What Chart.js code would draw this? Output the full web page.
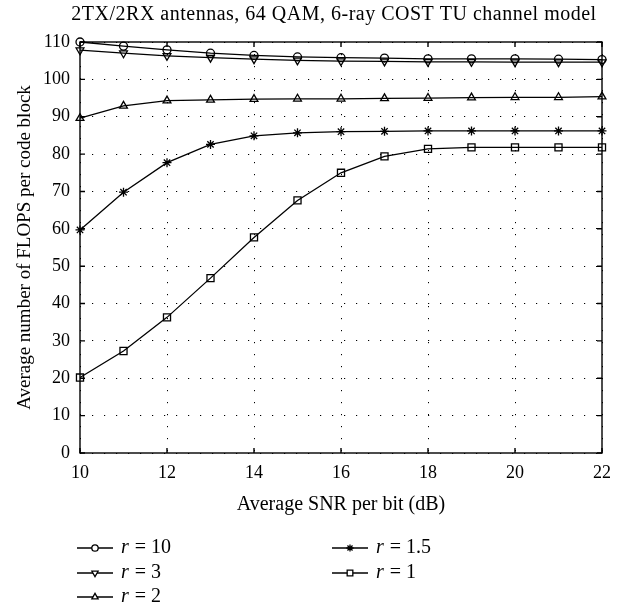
<!DOCTYPE html>
<html>
<head>
<meta charset="utf-8">
<script src="https://cdn.jsdelivr.net/npm/chart.js@4/dist/chart.umd.min.js"></script>
<style>
  html, body { margin: 0; padding: 0; background: #fff; }
  #wrap { width: 624px; height: 611px; }
</style>
</head>
<body>
<div id="wrap"><canvas id="flopsChart" width="624" height="611"></canvas></div>
<script>
const snr = [10, 11, 12, 13, 14, 15, 16, 17, 18, 19, 20, 21, 22];
const r10 = [110, 108.9, 107.9, 107, 106.4, 106, 105.8, 105.7, 105.5, 105.5, 105.5, 105.4, 105.3];
const r3 = [107.8, 107, 106.3, 105.8, 105.4, 105.1, 104.9, 104.8, 104.7, 104.7, 104.6, 104.6, 104.6];
const r2 = [89.6, 92.9, 94.3, 94.5, 94.7, 94.8, 94.8, 94.9, 95.0, 95.1, 95.2, 95.2, 95.4];
const r15 = [59.7, 69.8, 77.7, 82.6, 84.9, 85.7, 86.0, 86.1, 86.2, 86.2, 86.2, 86.2, 86.2];
const r1 = [20.2, 27.3, 36.3, 46.8, 57.7, 67.6, 75.0, 79.4, 81.4, 81.8, 81.8, 81.8, 81.8];
const xTicks = [10, 12, 14, 16, 18, 20, 22];
const yTicks = [0, 10, 20, 30, 40, 50, 60, 70, 80, 90, 100, 110];

const titleText = '2TX/2RX antennas, 64 QAM, 6-ray COST TU channel model';
const serif = "'Liberation Serif', 'DejaVu Serif', serif";

function pts(ys) {
  return ys.map((y, i) => ({ x: snr[i], y: y }));
}

function makeSet(label, ys, style, radius, rotation) {
  return {
    label: label,
    data: pts(ys),
    borderColor: '#000',
    borderWidth: 1.3,
    backgroundColor: 'rgba(0,0,0,0)',
    pointStyle: style,
    pointRadius: radius,
    pointRotation: rotation || 0,
    pointBorderColor: '#000',
    pointBorderWidth: 1.3,
    pointBackgroundColor: 'rgba(0,0,0,0)',
    clip: false,
    tension: 0
  };
}

const datasets = [
  makeSet('10', r10, 'circle', 4),
  makeSet('3', r3, 'triangle', 4.5, 180),
  makeSet('2', r2, 'triangle', 4.5),
  makeSet('1.5', r15, 'star', 4.5),
  makeSet('1', r1, 'rect', 5)
];

// frame, inward ticks, title and legend
const decor = {
  id: 'decor',
  beforeDatasetsDraw(chart) {
    const ctx = chart.ctx;
    const a = chart.chartArea;
    const xs = chart.scales.x, ys = chart.scales.y;
    ctx.save();
    ctx.strokeStyle = '#000';
    ctx.lineWidth = 1.4;
    ctx.strokeRect(a.left, a.top, a.right - a.left, a.bottom - a.top);
    ctx.beginPath();
    xTicks.forEach(v => {
      const px = xs.getPixelForValue(v);
      ctx.moveTo(px, a.bottom); ctx.lineTo(px, a.bottom - 5);
      ctx.moveTo(px, a.top); ctx.lineTo(px, a.top + 5);
    });
    yTicks.forEach(v => {
      const py = ys.getPixelForValue(v);
      ctx.moveTo(a.left, py); ctx.lineTo(a.left + 5, py);
      ctx.moveTo(a.right, py); ctx.lineTo(a.right - 5, py);
    });
    ctx.stroke();
    ctx.restore();
  },
  afterDraw(chart) {
    const ctx = chart.ctx;
    ctx.save();
    ctx.fillStyle = '#000';
    ctx.font = '20px ' + serif;
    ctx.letterSpacing = '0.5px';
    ctx.textAlign = 'center';
    ctx.textBaseline = 'middle';
    ctx.fillText(titleText, 334, 15);
    ctx.letterSpacing = '0px';

    const cols = [77, 332];
    const rows = [548, 573, 597];
    chart.data.datasets.forEach((ds, i) => {
      const col = i < 3 ? 0 : 1;
      const row = i < 3 ? i : i - 3;
      const x0 = cols[col], y0 = rows[row];
      ctx.strokeStyle = '#000';
      ctx.lineWidth = 1.3;
      ctx.beginPath();
      ctx.moveTo(x0, y0); ctx.lineTo(x0 + 36, y0);
      ctx.stroke();
      ctx.fillStyle = '#fff';
      Chart.helpers.drawPoint(ctx, {
        pointStyle: ds.pointStyle,
        radius: ds.pointRadius * 0.8,
        rotation: ds.pointRotation,
        borderWidth: 1.2
      }, x0 + 18, y0);
      ctx.fillStyle = '#000';
      ctx.textAlign = 'left';
      ctx.font = 'italic 20px ' + serif;
      ctx.fillText('r', x0 + 44, y0);
      const rw = ctx.measureText('r').width;
      ctx.font = '20px ' + serif;
      ctx.fillText(' = ' + ds.label, x0 + 44 + rw + 1, y0);
    });
    ctx.restore();
  }
};

const ctx = document.getElementById('flopsChart').getContext('2d');
const flopsChart = new Chart(ctx, {
  type: 'line',
  data: { datasets: datasets },
  options: {
    responsive: false,
    animation: false,
    layout: { padding: { left: 14, right: 22, top: 42, bottom: 94 } },
    plugins: {
      legend: { display: false },
      title: { display: false },
      tooltip: { enabled: false }
    },
    scales: {
      x: {
        type: 'linear',
        min: 10,
        max: 22,
        afterFit: s => { s.height = 64; },
        afterBuildTicks: s => { s.ticks = xTicks.map(v => ({ value: v })); },
        ticks: { color: '#000', font: { family: serif, size: 18 }, padding: 9, maxRotation: 0 },
        grid: { color: '#000', lineWidth: 1, drawTicks: false },
        border: { display: false, dash: [1.2, 10.8] },
        title: {
          display: true,
          text: 'Average SNR per bit (dB)',
          color: '#000',
          font: { family: serif, size: 20 },
          padding: 0
        }
      },
      y: {
        min: 0,
        max: 110,
        afterFit: s => { s.width = 66; },
        afterBuildTicks: s => { s.ticks = yTicks.map(v => ({ value: v })); },
        ticks: { color: '#000', font: { family: serif, size: 18 }, padding: 10 },
        grid: { color: '#000', lineWidth: 1, drawTicks: false },
        border: { display: false, dash: [1.2, 10.8] },
        title: {
          display: true,
          text: 'Average number of FLOPS per code block',
          color: '#000',
          font: { family: serif, size: 19 },
          padding: 0
        }
      }
    }
  },
  plugins: [decor]
});
</script>
</body>
</html>
